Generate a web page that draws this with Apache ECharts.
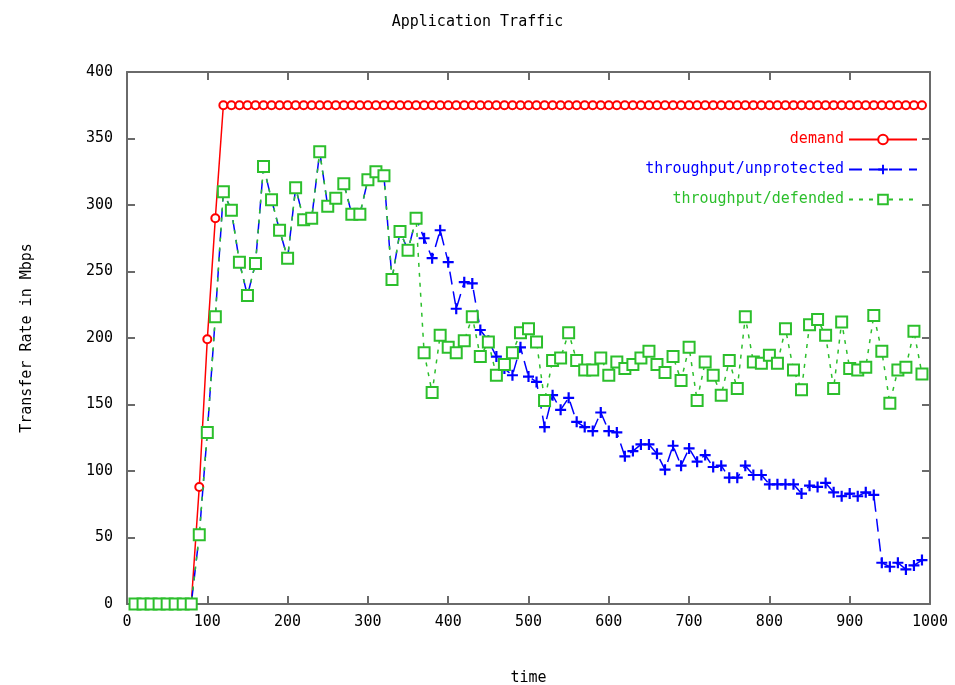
<!DOCTYPE html>
<html>
<head>
<meta charset="utf-8">
<title>Application Traffic</title>
<script src="https://cdn.jsdelivr.net/npm/echarts@6/dist/echarts.min.js"></script>
<style>
  html, body { margin: 0; padding: 0; background: #fff; }
  #chart-container { width: 955px; height: 685px; }
</style>
</head>
<body>
<div id="chart-container"></div>
<script>
const time = [
  10, 20, 30, 40, 50, 60, 70, 80, 90, 100,
  110, 120, 130, 140, 150, 160, 170, 180, 190, 200,
  210, 220, 230, 240, 250, 260, 270, 280, 290, 300,
  310, 320, 330, 340, 350, 360, 370, 380, 390, 400,
  410, 420, 430, 440, 450, 460, 470, 480, 490, 500,
  510, 520, 530, 540, 550, 560, 570, 580, 590, 600,
  610, 620, 630, 640, 650, 660, 670, 680, 690, 700,
  710, 720, 730, 740, 750, 760, 770, 780, 790, 800,
  810, 820, 830, 840, 850, 860, 870, 880, 890, 900,
  910, 920, 930, 940, 950, 960, 970, 980, 990
];

const demand = [
  0, 0, 0, 0, 0, 0, 0, 0, 88, 199,
  290, 375, 375, 375, 375, 375, 375, 375, 375, 375,
  375, 375, 375, 375, 375, 375, 375, 375, 375, 375,
  375, 375, 375, 375, 375, 375, 375, 375, 375, 375,
  375, 375, 375, 375, 375, 375, 375, 375, 375, 375,
  375, 375, 375, 375, 375, 375, 375, 375, 375, 375,
  375, 375, 375, 375, 375, 375, 375, 375, 375, 375,
  375, 375, 375, 375, 375, 375, 375, 375, 375, 375,
  375, 375, 375, 375, 375, 375, 375, 375, 375, 375,
  375, 375, 375, 375, 375, 375, 375, 375, 375
];

const unprotected = [
  0, 0, 0, 0, 0, 0, 0, 0, 52, 129,
  216, 310, 296, 257, 232, 256, 329, 304, 281, 260,
  313, 289, 290, 340, 299, 305, 316, 293, 293, 319,
  325, 322, 244, 280, 266, 290, 275, 260, 281, 257,
  222, 242, 241, 206, 198, 186, 177, 172, 193, 171,
  167, 133, 157, 146, 155, 137, 133, 130, 144, 130,
  129, 111, 115, 120, 120, 113, 101, 119, 104, 117,
  107, 112, 103, 104, 95, 95, 104, 97, 97, 90,
  90, 90, 90, 83, 89, 88, 91, 84, 81, 83,
  81, 84, 82, 31, 28, 31, 26, 29, 33
];

const defended = [
  0, 0, 0, 0, 0, 0, 0, 0, 52, 129,
  216, 310, 296, 257, 232, 256, 329, 304, 281, 260,
  313, 289, 290, 340, 299, 305, 316, 293, 293, 319,
  325, 322, 244, 280, 266, 290, 189, 159, 202, 193,
  189, 198, 216, 186, 197, 172, 180, 189, 204, 207,
  197, 153, 183, 185, 204, 183, 176, 176, 185, 172,
  182, 177, 180, 185, 190, 180, 174, 186, 168, 193,
  153, 182, 172, 157, 183, 162, 216, 182, 181, 187,
  181, 207, 176, 161, 210, 214, 202, 162, 212, 177,
  176, 178, 217, 190, 151, 176, 178, 205, 173
];

const seriesNames = ['demand', 'throughput/unprotected', 'throughput/defended'];

const FONT = '"DejaVu Sans Mono", monospace';
const AXIS_GRAY = '#6a6a6a';
const GREEN = '#2cbf2c';
const plusPath = 'path://M4,0 L6,0 L6,4 L10,4 L10,6 L6,6 L6,10 L4,10 L4,6 L0,6 L0,4 L4,4 Z';

function pairs(values) {
  return time.map((t, i) => [t, values[i]]);
}

const baseAxis = {
  axisLine: { show: true, onZero: false, lineStyle: { color: AXIS_GRAY, width: 2 } },
  axisTick: { show: true, inside: true, length: 8, lineStyle: { color: AXIS_GRAY, width: 2 } },
  splitLine: { show: false },
};

const options = {
  animation: false,
  backgroundColor: '#fff',
  title: {
    text: 'Application Traffic',
    left: 'center',
    top: 10,
    textStyle: { fontFamily: FONT, fontSize: 15, fontWeight: 'normal', color: '#000' }
  },
  legend: {
    data: [
      { name: seriesNames[0], textStyle: { color: '#ff0000' } },
      { name: seriesNames[1], textStyle: { color: '#0000ff' } },
      { name: seriesNames[2], textStyle: { color: GREEN } }
    ],
    orient: 'vertical',
    align: 'right',
    right: 32,
    top: 127,
    itemWidth: 68,
    itemHeight: 12,
    itemGap: 15,
    textStyle: { fontFamily: FONT, fontSize: 15 }
  },
  grid: { left: 127, right: 25, top: 72, bottom: 81, outerBoundsMode: 'none' },
  xAxis: [
    Object.assign({}, baseAxis, {
      type: 'value',
      min: 0, max: 1000, interval: 100,
      name: 'time',
      nameLocation: 'middle',
      nameGap: 67,
      nameTextStyle: { fontFamily: FONT, fontSize: 15, color: '#000' },
      axisLabel: { fontFamily: FONT, fontSize: 15, color: '#000', margin: 11, formatter: v => String(v) }
    }),
    Object.assign({}, baseAxis, {
      type: 'value', position: 'top',
      min: 0, max: 1000, interval: 100,
      axisLabel: { show: false }
    })
  ],
  yAxis: [
    Object.assign({}, baseAxis, {
      type: 'value',
      min: 0, max: 400, interval: 50,
      name: 'Transfer Rate in Mbps',
      nameLocation: 'middle',
      nameGap: 92,
      nameTextStyle: { fontFamily: FONT, fontSize: 15, color: '#000' },
      axisLabel: { fontFamily: FONT, fontSize: 15, color: '#000', margin: 14 }
    }),
    Object.assign({}, baseAxis, {
      type: 'value', position: 'right',
      min: 0, max: 400, interval: 50,
      axisLabel: { show: false }
    })
  ],
  series: [
    {
      name: seriesNames[0],
      type: 'line',
      data: pairs(demand),
      color: '#ff0000',
      symbol: 'emptyCircle',
      symbolSize: 8,
      showAllSymbol: true,
      lineStyle: { width: 1.5, color: '#ff0000' },
      itemStyle: { color: '#ff0000', borderWidth: 1.5 },
      z: 2
    },
    {
      name: seriesNames[1],
      type: 'line',
      data: pairs(unprotected),
      color: '#0000ff',
      symbol: plusPath,
      symbolSize: 11,
      showAllSymbol: true,
      lineStyle: { width: 1.5, color: '#0000ff', type: [13, 7] },
      itemStyle: { color: '#0000ff' },
      z: 3
    },
    {
      name: seriesNames[2],
      type: 'line',
      data: pairs(defended),
      color: GREEN,
      symbol: 'emptyRect',
      symbolSize: 11,
      showAllSymbol: true,
      lineStyle: { width: 1.5, color: GREEN, type: [4, 6] },
      itemStyle: { color: GREEN, borderWidth: 1.5 },
      z: 4
    }
  ]
};

const chart = echarts.init(document.getElementById('chart-container'));
chart.setOption(options);
</script>
</body>
</html>
